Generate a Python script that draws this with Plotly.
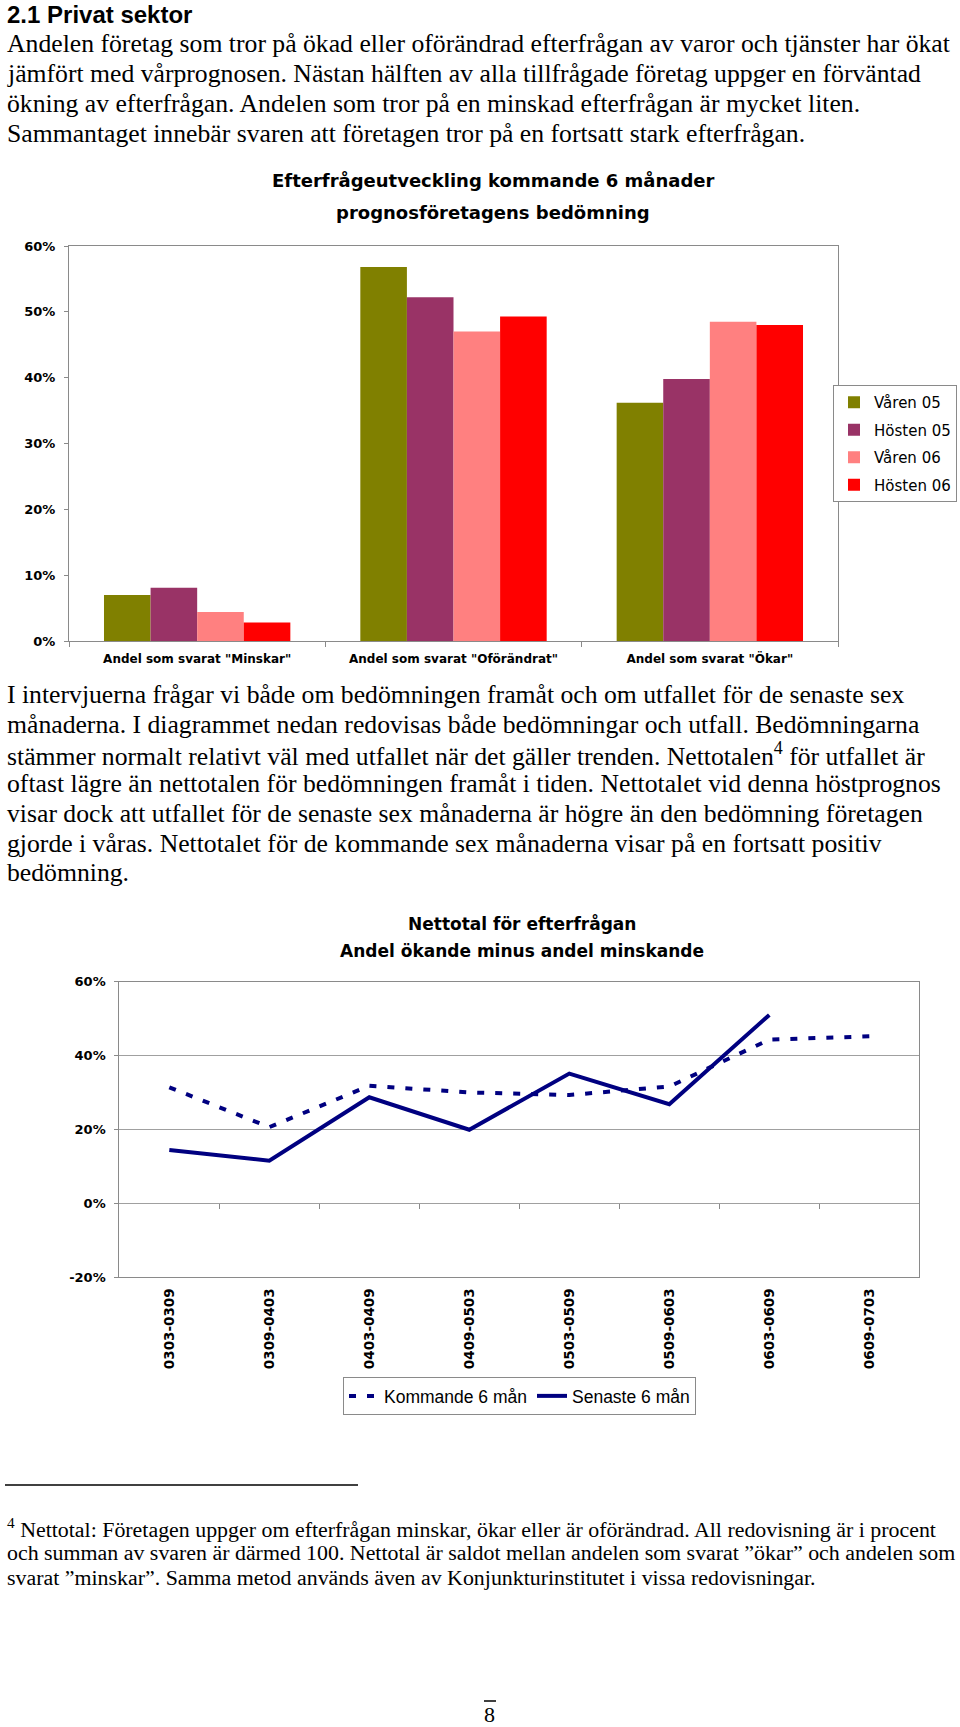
import plotly.graph_objects as go

W, H = 960, 1727

# ---------------- data ----------------
categories = ['Andel som svarat "Minskar"', 'Andel som svarat "Oförändrat"', 'Andel som svarat "Ökar"']
series_names = ["Våren 05", "Hösten 05", "Våren 06", "Hösten 06"]
varen05 = [0.070, 0.568, 0.362]
hosten05 = [0.081, 0.522, 0.398]
varen06 = [0.044, 0.470, 0.485]
hosten06 = [0.028, 0.493, 0.480]
bar_colors = ["#808000", "#993366", "#FF8080", "#FF0000"]
bar_tickvals = [0, 0.1, 0.2, 0.3, 0.4, 0.5, 0.6]
bar_ticktext = ["0%", "10%", "20%", "30%", "40%", "50%", "60%"]

periods = ["0303-0309", "0309-0403", "0403-0409", "0409-0503",
           "0503-0509", "0509-0603", "0603-0609", "0609-0703"]
kommande = [0.314, 0.206, 0.318, 0.300, 0.293, 0.316, 0.443, 0.452]
senaste = [0.144, 0.115, 0.287, 0.199, 0.351, 0.268, 0.510, None]
line_names = ["Kommande 6 mån", "Senaste 6 mån"]
line_tickvals = [-0.2, 0, 0.2, 0.4, 0.6]
line_ticktext = ["-20%", "0%", "20%", "40%", "60%"]

para1 = [
    "Andelen företag som tror på ökad eller oförändrad efterfrågan av varor och tjänster har ökat",
    "jämfört med vårprognosen. Nästan hälften av alla tillfrågade företag uppger en förväntad",
    "ökning av efterfrågan. Andelen som tror på en minskad efterfrågan är mycket liten.",
    "Sammantaget innebär svaren att företagen tror på en fortsatt stark efterfrågan.",
]
para2 = [
    "I intervjuerna frågar vi både om bedömningen framåt och om utfallet för de senaste sex",
    "månaderna. I diagrammet nedan redovisas både bedömningar och utfall. Bedömningarna",
    "stämmer normalt relativt väl med utfallet när det gäller trenden. Nettotalen<sup>4</sup> för utfallet är",
    "oftast lägre än nettotalen för bedömningen framåt i tiden. Nettotalet vid denna höstprognos",
    "visar dock att utfallet för de senaste sex månaderna är högre än den bedömning företagen",
    "gjorde i våras. Nettotalet för de kommande sex månaderna visar på en fortsatt positiv",
    "bedömning.",
]
footnote = [
    "<sup>4</sup> Nettotal: Företagen uppger om efterfrågan minskar, ökar eller är oförändrad. All redovisning är i procent",
    "och summan av svaren är därmed 100. Nettotal är saldot mellan andelen som svarat ”ökar” och andelen som",
    "svarat ”minskar”. Samma metod används även av Konjunkturinstitutet i vissa redovisningar.",
]

# ---------------- helpers ----------------
def px(x):
    return x / W

def py(y):
    return 1 - y / H

CH = "DejaVu Sans"
SERIF = "Liberation Serif"
GRAY = "#8a8a8a"

fig = go.Figure()

# bar chart
for name, vals, col in zip(series_names, [varen05, hosten05, varen06, hosten06], bar_colors):
    fig.add_trace(go.Bar(x=categories, y=vals, name=name, marker=dict(color=col, line=dict(width=0)),
                         xaxis="x", yaxis="y", legend="legend", legendgroup=name))

# line chart
xi = list(range(len(periods)))
fig.add_trace(go.Scatter(x=xi, y=kommande, name=line_names[0], mode="lines",
                         line=dict(color="#000080", width=4, dash="7px,11px"),
                         xaxis="x2", yaxis="y2", legend="legend2"))
fig.add_trace(go.Scatter(x=xi, y=senaste, name=line_names[1], mode="lines",
                         line=dict(color="#000080", width=4),
                         xaxis="x2", yaxis="y2", legend="legend2", connectgaps=False))

# domains
bx0, bx1 = px(69), px(838)
by0, by1 = py(641), py(246)
lx0, lx1 = px(119.3), px(919.3)
ly0, ly1 = py(1277), py(981.7)
lrange = [-0.2, 0.6]
zero_pos = ly0 + (0 - lrange[0]) / (lrange[1] - lrange[0]) * (ly1 - ly0)

# invisible trace for the boundary tick axis
fig.add_trace(go.Scatter(x=[-0.5, 7.5], y=[None, None], xaxis="x3", yaxis="y2",
                         showlegend=False, hoverinfo="skip"))

tickfont_b = dict(family=CH, size=13, color="black", weight="bold")

fig.update_layout(
    width=W, height=H,
    margin=dict(l=0, r=0, t=0, b=0),
    paper_bgcolor="white", plot_bgcolor="white",
    barmode="group", bargap=0.273, bargroupgap=0,
    font=dict(family=CH, size=13, color="black"),
    xaxis=dict(domain=[bx0, bx1], anchor="y", type="category",
               showline=True, linecolor=GRAY, linewidth=1, mirror=True,
               ticks="outside", tickson="boundaries", ticklen=5, tickcolor=GRAY,
               showgrid=False, tickfont=dict(family=CH, size=12, color="black", weight="bold"),
               ticklabelstandoff=7, automargin=False),
    yaxis=dict(domain=[by0, by1], anchor="x", range=[0, 0.6],
               tickvals=bar_tickvals, ticktext=bar_ticktext,
               showline=True, linecolor=GRAY, linewidth=1, mirror=True,
               ticks="outside", ticklen=4, tickcolor=GRAY, showgrid=False, zeroline=False,
               tickfont=tickfont_b, ticklabelstandoff=6,
               automargin=False),
    xaxis2=dict(domain=[lx0, lx1], anchor="y2", range=[-0.5, 7.5],
                tickvals=xi, ticktext=periods, tickangle=-90,
                showline=True, linecolor=GRAY, linewidth=1, mirror=True,
                ticks="", showgrid=False, zeroline=False,
                tickfont=dict(family=CH, size=13.5, color="black", weight="bold"),
                ticklabelstandoff=5, automargin=False),
    xaxis3=dict(overlaying="x2", anchor="free", position=zero_pos, range=[-0.5, 7.5],
                tickvals=[i + 0.5 for i in xi[:-1]], ticks="outside", ticklen=5, tickcolor=GRAY,
                showticklabels=False, showgrid=False, showline=False, zeroline=False),
    yaxis2=dict(domain=[ly0, ly1], anchor="x2", range=lrange,
                tickvals=line_tickvals, ticktext=line_ticktext,
                showline=True, linecolor=GRAY, linewidth=1, mirror=True,
                ticks="outside", ticklen=4, tickcolor=GRAY,
                showgrid=True, gridcolor="#a0a0a0", gridwidth=1, zeroline=False,
                tickfont=tickfont_b, ticklabelstandoff=6,
                automargin=False),
    legend=dict(x=px(957), y=py(385), xanchor="right", yanchor="top",
                bordercolor=GRAY, borderwidth=1, bgcolor="white",
                font=dict(family=CH, size=15, color="black"),
                itemwidth=30, tracegroupgap=5, traceorder="grouped"),
    legend2=dict(orientation="h", x=px(519.5), y=py(1396), xanchor="center", yanchor="middle",
                 bordercolor=GRAY, borderwidth=1, bgcolor="white",
                 font=dict(family="Liberation Sans", size=17.5, color="black")),
    showlegend=True,
)

ann = []

def text(x, y, s, size, family=SERIF, anchor="left", bold=False, color="black"):
    ann.append(dict(x=px(x), y=py(y), xref="paper", yref="paper", text=s, showarrow=False,
                    xanchor=anchor, yanchor="middle", align=anchor,
                    font=dict(family=family, size=size, color=color,
                              weight="bold" if bold else "normal")))

text(5, 14, "2.1 Privat sektor", 24, family="Liberation Sans", bold=True)
for i, s in enumerate(para1):
    text(5, 44 + i * 29.7, s, 25.7)
for i, s in enumerate(para2):
    text(5, 694.7 + i * 29.7, s, 25.7)
for i, s in enumerate(footnote):
    text(5, 1528 + i * 24.8, s, 21.9)

# chart titles
text(493, 180, "Efterfrågeutveckling kommande 6 månader", 18, family=CH, anchor="center", bold=True)
text(493, 212, "prognosföretagens bedömning", 18, family=CH, anchor="center", bold=True)
text(522, 923, "Nettotal för efterfrågan", 17, family=CH, anchor="center", bold=True)
text(522, 951, "Andel ökande minus andel minskande", 17, family=CH, anchor="center", bold=True)

# page number
text(490, 1714, "8", 22, family=SERIF, anchor="center")

fig.update_layout(annotations=ann)

fig.add_shape(type="line", xref="paper", yref="paper", x0=px(5), x1=px(358), y0=py(1485), y1=py(1485),
              line=dict(color="black", width=1.5))
fig.add_shape(type="line", xref="paper", yref="paper", x0=px(484), x1=px(496), y0=py(1701), y1=py(1701),
              line=dict(color="black", width=1.5))

fig.write_html("out.html", config={"displayModeBar": False},
               post_script="document.body.style.margin='0';document.body.style.overflow='hidden';")
